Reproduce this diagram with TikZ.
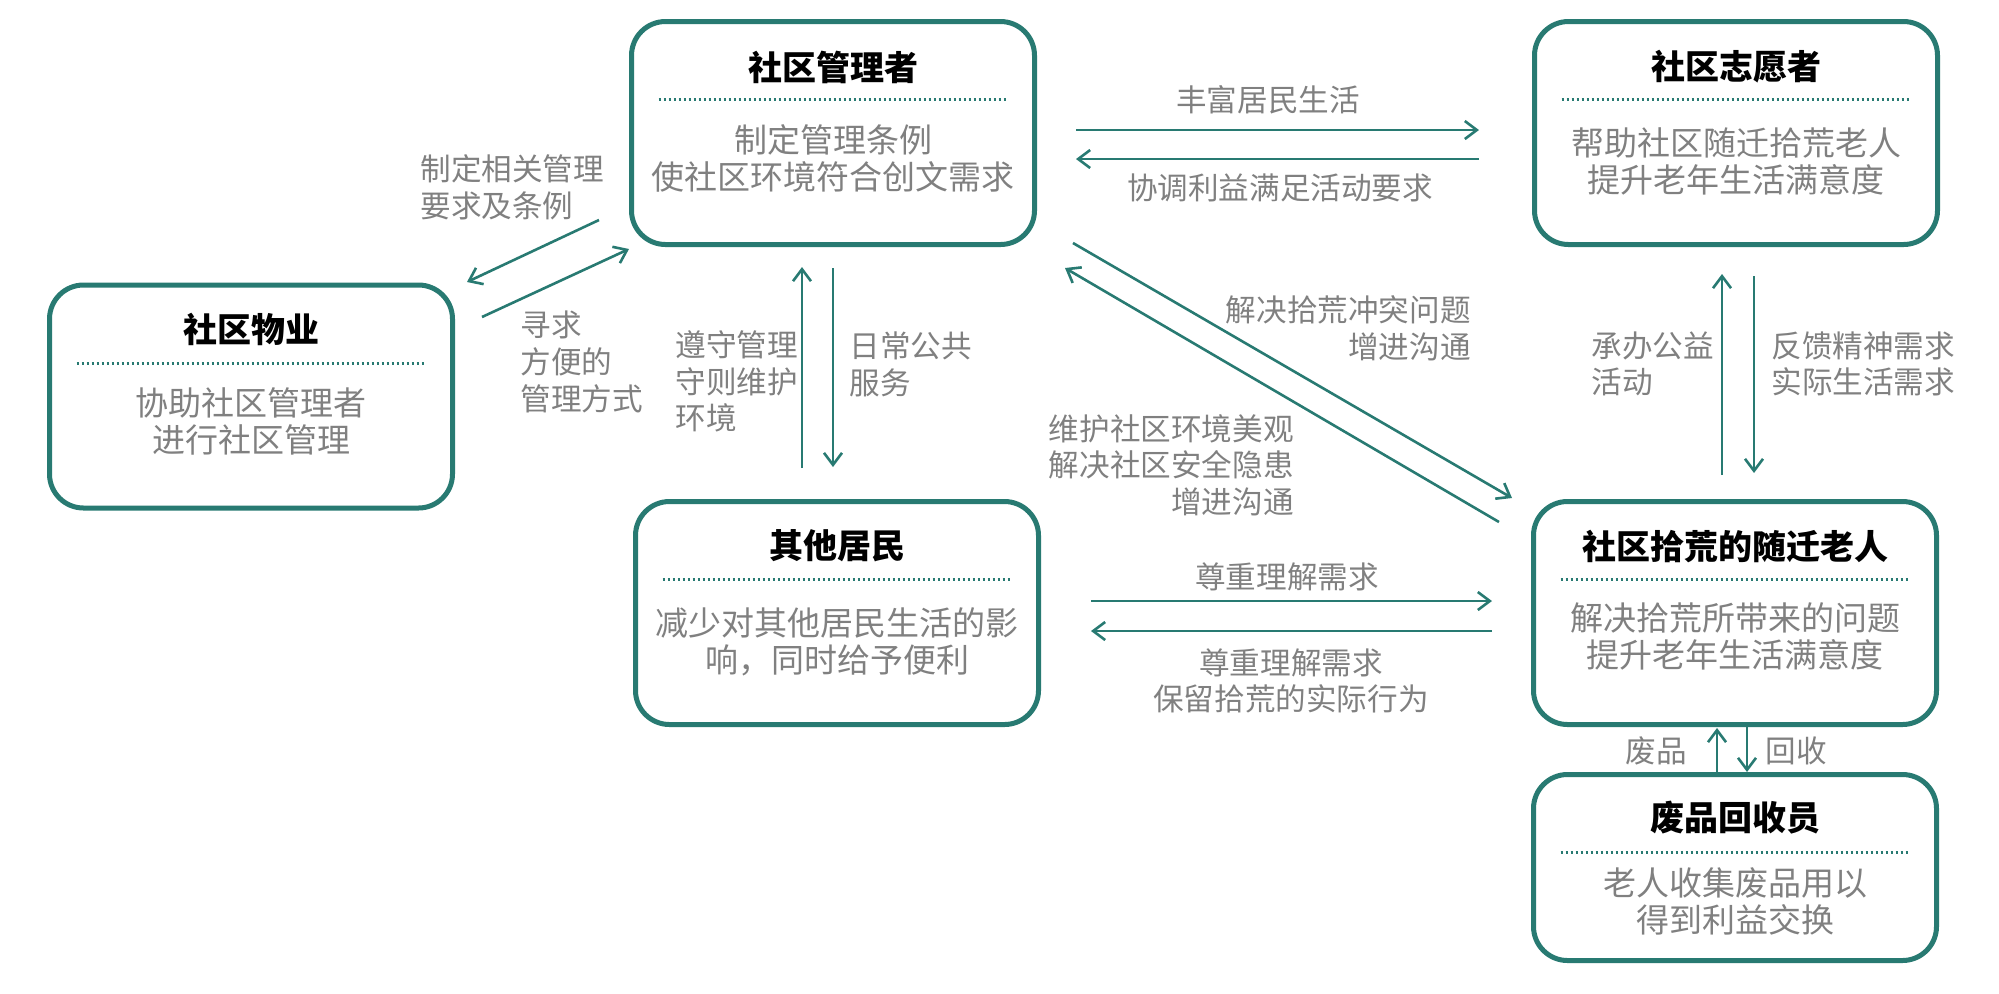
\documentclass[tikz,border=0pt]{standalone}
\usepackage{fontspec}
\setmainfont{Noto Sans CJK SC}
\usepackage{xcolor}
\usepackage{tikz}
\usetikzlibrary{arrows.meta,positioning,calc}

\definecolor{tealline}{RGB}{40,122,114}
\definecolor{txtgray}{RGB}{128,128,128}

\begin{document}
\begin{tikzpicture}[
      x=0.5pt, y=-0.5pt,
      box/.style={rectangle, draw=tealline, line width=2.5pt, rounded corners=17pt,
                  minimum width=201.5pt, minimum height=111.5pt, outer sep=0pt},
      head/.style={font=\fontsize{17}{20}\selectfont\bfseries, text=black, inner sep=0pt},
      body/.style={font=\fontsize{16.5}{18.5}\selectfont, text=txtgray, align=center, inner sep=0pt},
      note/.style={font=\fontsize{15.3}{18.3}\selectfont, text=txtgray, inner sep=0pt},
      dotsep/.style={draw=tealline, line width=1.5pt, dash pattern=on 1.2pt off 1.3pt},
      arrow/.style={-{Straight Barb[length=6pt,width=9pt]}, draw=tealline, line width=1.3pt},
    ]
    \useasboundingbox (0,0) rectangle (1999,993);

    % boxes
    \node[box] (mgr)   at (833,133)   {};
    \node[box] (vol)   at (1736,133)  {};
    \node[box] (prop)  at (251,396.5) {};
    \node[box] (resid) at (837,613)   {};
    \node[box] (elder) at (1735,613)  {};
    \node[box, minimum height=93pt] (recyc) at (1735,867.5) {};

    \node[head] (mgrT)   at (833,67)   {社区管理者};
    \node[head] (volT)   at (1736,67)  {社区志愿者};
    \node[head] (propT)  at (251,329)  {社区物业};
    \node[head] (residT) at (837,546)  {其他居民};
    \node[head] (elderT) at (1735,546) {社区拾荒的随迁老人};
    \node[head] (recycT) at (1735,818) {废品回收员};

    \foreach \b in {mgr,vol,prop,resid,elder,recyc}
      \draw[dotsep] ($(\b.north west)+(27,78)$) -- ($(\b.north east)+(-27,78)$);

    \node[body] (mgrB)   at (833,158.5)  {制定管理条例\\使社区环境符合创文需求};
    \node[body] (volB)   at (1736,161)   {帮助社区随迁拾荒老人\\提升老年生活满意度};
    \node[body] (propB)  at (251,421.5)  {协助社区管理者\\进行社区管理};
    \node[body] (residB) at (837,641.5)  {减少对其他居民生活的影\\响，同时给予便利};
    \node[body] (elderB) at (1735,636.5) {解决拾荒所带来的问题\\提升老年生活满意度};
    \node[body] (recycB) at (1735,901.5) {老人收集废品用以\\得到利益交换};

    % labels
    \node[note] (l1)  at (1268,100) {丰富居民生活};
    \node[note] (l2)  at (1280,188) {协调利益满足活动要求};
    \node[note] (l3)  at (1287,577) {尊重理解需求};
    \node[note, align=center] (l4) at (1291,681) {尊重理解需求\\保留拾荒的实际行为};
    \node[note, align=left, anchor=west]  (l5)  at (420,187.5) {制定相关管理\\要求及条例};
    \node[note, align=left, anchor=west]  (l6)  at (520,362)   {寻求\\方便的\\管理方式};
    \node[note, align=left, anchor=west]  (l7)  at (675,381.5) {遵守管理\\守则维护\\环境};
    \node[note, align=left, anchor=west]  (l8)  at (849,364.5) {日常公共\\服务};
    \node[note, align=right, anchor=east] (l9)  at (1471,328)  {解决拾荒冲突问题\\增进沟通};
    \node[note, align=right, anchor=east] (l10) at (1294,465)  {维护社区环境美观\\解决社区安全隐患\\增进沟通};
    \node[note, align=left, anchor=west]  (l11) at (1591,364)  {承办公益\\活动};
    \node[note, align=left, anchor=west]  (l12) at (1771,364)  {反馈精神需求\\实际生活需求};
    \node[note, anchor=east] (l13) at (1687,751) {废品};
    \node[note, anchor=west] (l14) at (1765,751) {回收};

    % connectors
    \draw[arrow] ($(mgr.east)+(41.5,-3)$) -- ($(vol.west)+(-55.5,-3)$);
    \draw[arrow] ($(vol.west)+(-55.5,26)$) -- ($(mgr.east)+(41.5,26)$);
    \draw[arrow] ($(resid.east)+(52.5,-12)$) -- ($(elder.west)+(-41.5,-12)$);
    \draw[arrow] ($(elder.west)+(-41.5,18)$) -- ($(resid.east)+(52.5,18)$);
    \draw[arrow] ($(mgr.south west)+(-32.5,-24.5)$) -- ($(prop.north east)+(14.5,-3)$);
    \draw[arrow] ($(prop.north east)+(29.5,32)$) -- ($(mgr.south west)+(-2.5,4.5)$);
    \draw[arrow] ($(resid.north)+(-35,-33.5)$) -- ($(mgr.south)+(-31,22.5)$);
    \draw[arrow] ($(mgr.south)+(0,23.5)$) -- ($(resid.north)+(-4,-34.5)$);
    \draw[arrow] ($(mgr.south east)+(38.5,-1.5)$) -- ($(elder.north west)+(-21.5,-3.5)$);
    \draw[arrow] ($(elder.north west)+(-34.5,20.5)$) -- ($(mgr.south east)+(30.5,23.5)$);
    \draw[arrow] ($(elder.north)+(-13,-26.5)$) -- ($(vol.south)+(-14,29.5)$);
    \draw[arrow] ($(vol.south)+(18,31.5)$) -- ($(elder.north)+(19,-28.5)$);
    \draw[arrow] ($(recyc.north)+(-18,-1)$) -- ($(elder.south)+(-18,3.5)$);
    \draw[arrow] ($(elder.south)+(12,1.5)$) -- ($(recyc.north)+(12,-2.5)$);
  \end{tikzpicture}
\end{document}
